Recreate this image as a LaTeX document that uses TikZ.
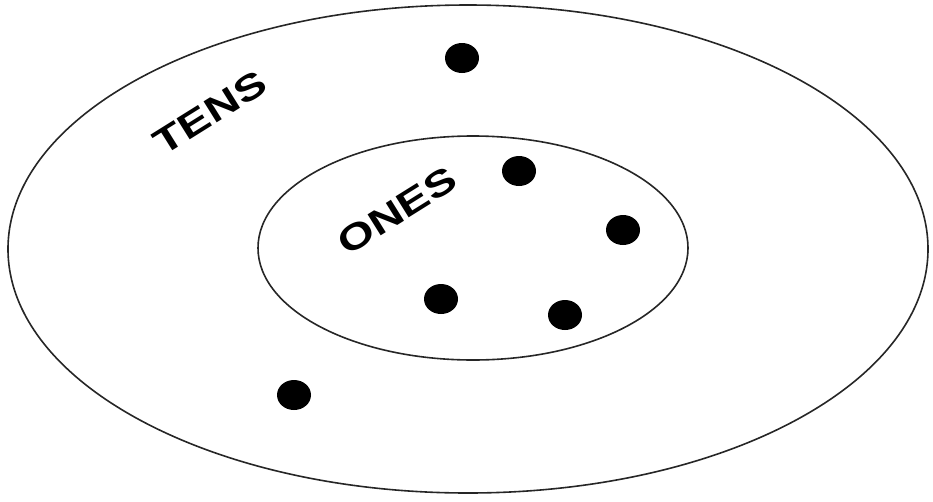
\documentclass[tikz,border=0pt]{standalone}
\usepackage{fontspec}
\setmainfont{Liberation Sans}
\newfontfamily\widefont[FakeStretch=1.3]{Liberation Sans Bold}
\begin{document}
\begin{tikzpicture}[x=1pt,y=-1pt,
  ring/.style={draw=black!85,line width=1.6pt},
  dot/.style={fill=black},
  lbl/.style={font=\widefont\fontsize{36}{36}\selectfont,inner sep=0pt}]
\useasboundingbox (0,0) rectangle (933,501);
\draw[ring] (468,249) ellipse [x radius=460,y radius=244];
\draw[ring] (473,248) ellipse [x radius=215,y radius=112];
\foreach \n/\x/\y in {d1/462/58,d2/519/171,d3/623/230,d4/441/299,d5/565/315,d6/294/395}
  \fill[dot] (\x,\y) coordinate (\n) ellipse [x radius=17,y radius=15];
\node[lbl,rotate=32] (tens) at (210,113) {TENS};
\node[lbl,rotate=32] (ones) at (397,211) {ONES};
\end{tikzpicture}
\end{document}
